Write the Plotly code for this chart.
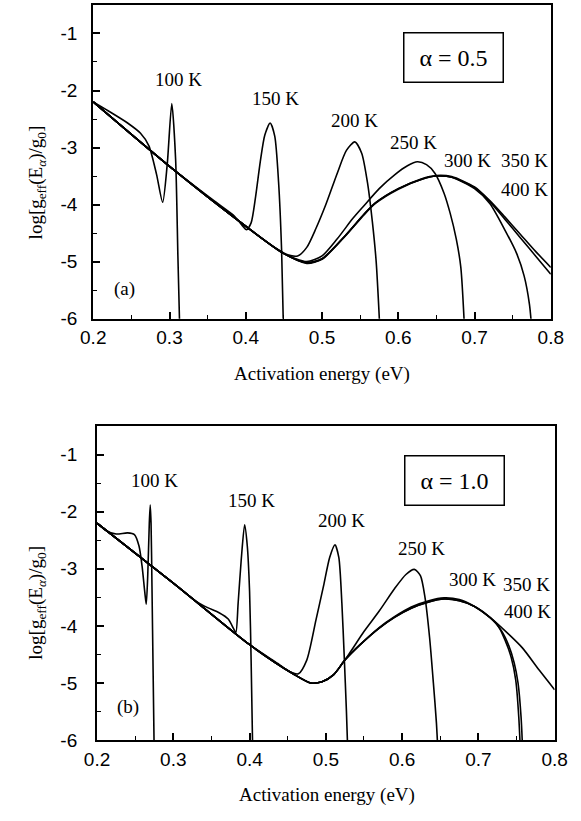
import plotly.graph_objects as go

# ---------------- data ----------------
x_tick_vals = [0.2, 0.3, 0.4, 0.5, 0.6, 0.7, 0.8]
x_tick_text = ["0.2", "0.3", "0.4", "0.5", "0.6", "0.7", "0.8"]
y_tick_vals = [-6, -5, -4, -3, -2, -1]
y_tick_text = ["-6", "-5", "-4", "-3", "-2", "-1"]
temps = ["100 K", "150 K", "200 K", "250 K", "300 K", "350 K", "400 K"]

# Panel (a), alpha = 0.5
a_100_x = [0.20, 0.22, 0.245, 0.262, 0.273, 0.283, 0.291, 0.297, 0.303, 0.308, 0.311, 0.314]
a_100_y = [-2.2, -2.36, -2.57, -2.75, -2.97, -3.47, -3.96, -3.3, -2.23, -3.2, -4.9, -6.5]
a_150_x = [0.20, 0.30, 0.36, 0.385, 0.395, 0.401, 0.407, 0.413, 0.419, 0.425, 0.432, 0.438, 0.443, 0.447, 0.450]
a_150_y = [-2.2, -3.33, -3.95, -4.2, -4.36, -4.44, -4.32, -3.85, -3.25, -2.78, -2.57, -2.8, -3.6, -4.8, -6.5]
a_200_x = [0.20, 0.30, 0.40, 0.44, 0.455, 0.468, 0.48, 0.492, 0.505, 0.52, 0.532, 0.543, 0.552, 0.56, 0.566, 0.571, 0.577]
a_200_y = [-2.2, -3.33, -4.38, -4.77, -4.88, -4.9, -4.75, -4.42, -4.0, -3.45, -3.05, -2.9, -3.1, -3.65, -4.3, -5.0, -6.5]
a_250_x = [0.20, 0.30, 0.40, 0.45, 0.48, 0.50, 0.52, 0.54, 0.555, 0.575, 0.596, 0.612, 0.625, 0.637, 0.648, 0.66, 0.668, 0.676, 0.682, 0.688]
a_250_y = [-2.2, -3.33, -4.38, -4.86, -5.0, -4.9, -4.6, -4.25, -4.02, -3.72, -3.47, -3.32, -3.25, -3.3, -3.45, -3.8, -4.15, -4.6, -5.1, -6.5]
a_300_x = [0.20, 0.30, 0.40, 0.45, 0.48, 0.50, 0.53, 0.555, 0.57, 0.60, 0.63, 0.65, 0.67, 0.70, 0.72, 0.74, 0.755, 0.765, 0.772, 0.777]
a_300_y = [-2.2, -3.33, -4.38, -4.86, -5.02, -4.95, -4.55, -4.17, -3.97, -3.72, -3.56, -3.5, -3.52, -3.72, -3.98, -4.45, -4.85, -5.25, -5.75, -6.5]
a_350_x = [0.20, 0.30, 0.40, 0.45, 0.48, 0.50, 0.53, 0.555, 0.57, 0.60, 0.63, 0.65, 0.67, 0.70, 0.72, 0.74, 0.76, 0.78, 0.80]
a_350_y = [-2.2, -3.33, -4.38, -4.86, -5.03, -4.96, -4.56, -4.18, -3.98, -3.73, -3.56, -3.5, -3.52, -3.7, -3.95, -4.26, -4.58, -4.9, -5.22]
a_400_x = [0.20, 0.30, 0.40, 0.45, 0.48, 0.50, 0.53, 0.555, 0.57, 0.60, 0.63, 0.65, 0.67, 0.70, 0.72, 0.74, 0.76, 0.78, 0.80]
a_400_y = [-2.2, -3.33, -4.38, -4.86, -5.02, -4.95, -4.55, -4.17, -3.97, -3.72, -3.55, -3.49, -3.51, -3.69, -3.93, -4.22, -4.52, -4.82, -5.1]

# Panel (b), alpha = 1.0
b_100_x = [0.20, 0.212, 0.225, 0.24, 0.249, 0.255, 0.259, 0.2625, 0.2645, 0.2665, 0.2685, 0.2697, 0.2708, 0.272, 0.2735, 0.2752]
b_100_y = [-2.2, -2.33, -2.39, -2.37, -2.4, -2.6, -2.95, -3.4, -3.62, -3.1, -2.2, -1.88, -2.2, -3.3, -4.8, -6.5]
b_150_x = [0.20, 0.30, 0.33, 0.345, 0.36, 0.372, 0.379, 0.382, 0.385, 0.389, 0.3935, 0.397, 0.400, 0.402, 0.4045]
b_150_y = [-2.2, -3.25, -3.57, -3.68, -3.77, -3.88, -4.05, -4.12, -3.6, -2.85, -2.23, -2.6, -3.4, -4.6, -6.5]
b_200_x = [0.20, 0.30, 0.40, 0.437, 0.452, 0.464, 0.475, 0.487, 0.497, 0.505, 0.512, 0.517, 0.521, 0.524, 0.527, 0.5295]
b_200_y = [-2.2, -3.25, -4.33, -4.66, -4.8, -4.84, -4.6, -3.9, -3.3, -2.8, -2.58, -2.8, -3.6, -4.5, -5.5, -6.5]
b_250_x = [0.20, 0.30, 0.40, 0.457, 0.48, 0.495, 0.51, 0.53, 0.55, 0.57, 0.59, 0.605, 0.616, 0.624, 0.63, 0.636, 0.641, 0.645, 0.648]
b_250_y = [-2.2, -3.25, -4.33, -4.84, -5.0, -4.98, -4.86, -4.5, -4.1, -3.74, -3.35, -3.1, -3.01, -3.12, -3.5, -4.2, -5.0, -5.7, -6.5]
b_300_x = [0.20, 0.30, 0.40, 0.457, 0.48, 0.495, 0.51, 0.525, 0.545, 0.57, 0.59, 0.612, 0.635, 0.655, 0.675, 0.695, 0.71, 0.725, 0.735, 0.743, 0.749, 0.753, 0.756]
b_300_y = [-2.2, -3.25, -4.33, -4.84, -5.0, -4.98, -4.86, -4.6, -4.33, -4.03, -3.84, -3.67, -3.56, -3.51, -3.54, -3.66, -3.8, -3.98, -4.25, -4.55, -4.95, -5.6, -6.5]
b_350_x = [0.20, 0.30, 0.40, 0.457, 0.48, 0.495, 0.51, 0.525, 0.545, 0.57, 0.59, 0.612, 0.635, 0.655, 0.675, 0.695, 0.716, 0.73, 0.74, 0.747, 0.752, 0.756, 0.759]
b_350_y = [-2.2, -3.25, -4.33, -4.84, -5.0, -4.98, -4.86, -4.6, -4.33, -4.04, -3.85, -3.69, -3.58, -3.53, -3.56, -3.66, -3.86, -4.08, -4.35, -4.65, -5.0, -5.6, -6.5]
b_400_x = [0.20, 0.30, 0.40, 0.457, 0.48, 0.495, 0.51, 0.525, 0.545, 0.57, 0.59, 0.612, 0.635, 0.655, 0.675, 0.695, 0.716, 0.74, 0.758, 0.78, 0.80]
b_400_y = [-2.2, -3.25, -4.33, -4.84, -5.0, -4.98, -4.86, -4.6, -4.33, -4.04, -3.85, -3.69, -3.58, -3.53, -3.56, -3.66, -3.86, -4.15, -4.39, -4.78, -5.12]

# label positions (data coordinates)
a_label_x = [0.3115, 0.439, 0.542, 0.620, 0.691, 0.765, 0.766]
a_label_y = [-1.80, -2.14, -2.52, -2.92, -3.23, -3.23, -3.73]
b_label_x = [0.275, 0.402, 0.521, 0.626, 0.692, 0.763, 0.764]
b_label_y = [-1.45, -1.80, -2.15, -2.65, -3.19, -3.27, -3.74]

# ---------------- figure ----------------
W, H = 581, 821
fig = go.Figure()

panels = [
    ("x", "y", [(a_100_x, a_100_y), (a_150_x, a_150_y), (a_200_x, a_200_y), (a_250_x, a_250_y),
                (a_300_x, a_300_y), (a_350_x, a_350_y), (a_400_x, a_400_y)]),
    ("x2", "y2", [(b_100_x, b_100_y), (b_150_x, b_150_y), (b_200_x, b_200_y), (b_250_x, b_250_y),
                  (b_300_x, b_300_y), (b_350_x, b_350_y), (b_400_x, b_400_y)]),
]
for xa, ya, curves in panels:
    for (cx, cy), t in zip(curves, temps):
        fig.add_trace(go.Scatter(x=cx, y=cy, xaxis=xa, yaxis=ya, mode="lines", name=t,
                                 line=dict(color="black", width=1.6, shape="spline", smoothing=0.7),
                                 showlegend=False, hoverinfo="skip"))

serif = "'Liberation Serif', 'Times New Roman', Times, serif"
sans = "'Liberation Sans', Arial, Helvetica, sans-serif"

def xaxis(domain, anchor, standoff):
    return dict(domain=domain, anchor=anchor, range=[0.2, 0.8], tickvals=x_tick_vals, ticktext=x_tick_text,
                ticks="inside", ticklen=7, tickwidth=1.5, tickcolor="black",
                minor=dict(dtick=0.05, ticks="inside", ticklen=4, tickwidth=1.2, tickcolor="black"),
                showline=True, linecolor="black", linewidth=2, mirror=True, showgrid=False, zeroline=False,
                tickfont=dict(family=sans, size=19, color="black"), ticklabelstandoff=standoff)

def yaxis(domain, anchor, standoff):
    return dict(domain=domain, anchor=anchor, range=[-6, -0.5], tickvals=y_tick_vals, ticktext=y_tick_text,
                ticks="inside", ticklen=7, tickwidth=1.5, tickcolor="black",
                minor=dict(dtick=0.5, ticks="inside", ticklen=4, tickwidth=1.2, tickcolor="black"),
                showline=True, linecolor="black", linewidth=2, mirror=True, showgrid=False, zeroline=False,
                tickfont=dict(family=sans, size=19, color="black"), ticklabelstandoff=standoff)

fig.update_layout(
    width=W, height=H, margin=dict(l=0, r=0, t=0, b=0),
    paper_bgcolor="white", plot_bgcolor="white",
    xaxis=xaxis([84 / W, 563 / W], "y", 1),
    yaxis=yaxis([1 - 323 / H, 1 - 5 / H], "x", 10),
    xaxis2=xaxis([88 / W, 567 / W], "y2", 1),
    yaxis2=yaxis([1 - 750 / H, 1 - 432 / H], "x2", 14),
)

ann = []
for xa, ya, lx, ly in [("x", "y", a_label_x, a_label_y), ("x2", "y2", b_label_x, b_label_y)]:
    for t, px, py in zip(temps, lx, ly):
        ann.append(dict(x=px, y=py, xref=xa, yref=ya, text=t, showarrow=False,
                        font=dict(family=serif, size=19, color="black"), xanchor="center", yanchor="middle"))

ann.append(dict(x=0.241, y=-5.48, xref="x", yref="y", text="(a)", showarrow=False,
                font=dict(family=serif, size=19, color="black")))
ann.append(dict(x=0.241, y=-5.43, xref="x2", yref="y2", text="(b)", showarrow=False,
                font=dict(family=serif, size=19, color="black")))

for xa, ya, bx, by, txt in [("x", "y", 0.673, -1.42, "α = 0.5"), ("x2", "y2", 0.669, -1.46, "α = 1.0")]:
    ann.append(dict(x=bx, y=by, xref=xa, yref=ya, text=txt, showarrow=False,
                    font=dict(family=serif, size=24, color="black"), width=96, height=46,
                    bordercolor="black", borderwidth=1.5, borderpad=1, bgcolor="white"))

ytitle = "log[g<sub>eff</sub>(E<sub><i>α</i></sub>)/g<sub>0</sub>]"
for cy in [185, 611]:
    ann.append(dict(x=25 / W, y=1 - cy / H, xref="paper", yref="paper", text=ytitle, textangle=-90,
                    showarrow=False, font=dict(family=serif, size=19, color="black"),
                    xanchor="center", yanchor="middle"))
for cx, cy in [(323, 379), (329, 806)]:
    ann.append(dict(x=cx / W, y=1 - cy / H, xref="paper", yref="paper", text="Activation energy (eV)",
                    showarrow=False, font=dict(family=serif, size=19, color="black"),
                    xanchor="center", yanchor="middle"))

fig.update_layout(annotations=ann)
fig.write_html("out.html", config={"displayModeBar": False},
               post_script="document.body.style.margin='0px';")
